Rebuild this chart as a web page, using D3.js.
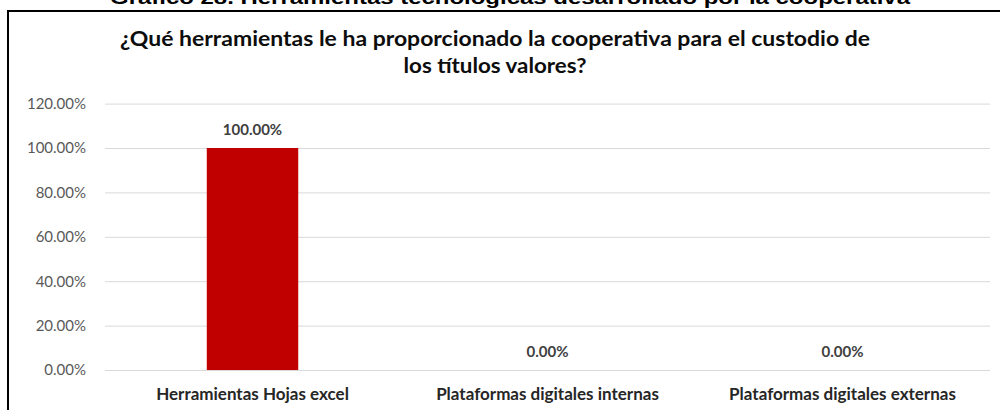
<!DOCTYPE html>
<html>
<head>
<meta charset="utf-8">
<script src="https://cdn.jsdelivr.net/npm/d3@7/dist/d3.min.js"></script>
<style>
  html, body { margin: 0; padding: 0; background: #fff; }
  svg { display: block; }
</style>
</head>
<body>
<svg id="chart" width="1000" height="410"></svg>
<script>
const categories = ["Herramientas Hojas excel", "Plataformas digitales internas", "Plataformas digitales externas"];
const values = [1.0, 0.0, 0.0];
const valueLabels = ["100.00%", "0.00%", "0.00%"];
const yTicks = [0, 0.2, 0.4, 0.6, 0.8, 1.0, 1.2];
const yTickLabels = ["0.00%", "20.00%", "40.00%", "60.00%", "80.00%", "100.00%", "120.00%"];
const captionText = "Gráfico 28. Herramientas tecnológicas desarrollado por la cooperativa";
const titleLines = ["¿Qué herramientas le ha proporcionado la cooperativa para el custodio de", "los títulos valores?"];

const svg = d3.select("#chart");
const W = 1000, H = 410;
svg.append("rect").attr("width", W).attr("height", H).attr("fill", "#fff");

// caption (cut at top in the reference)
svg.append("text")
  .attr("x", 510).attr("y", 4)
  .attr("text-anchor", "middle")
  .attr("font-family", "Arial, 'Liberation Sans', sans-serif")
  .attr("font-weight", "bold")
  .attr("font-size", 19)
  .attr("fill", "#000")
  .attr("textLength", 800).attr("lengthAdjust", "spacingAndGlyphs")
  .text(captionText);

// frame
svg.append("line").attr("x1", 8).attr("x2", 1000).attr("y1", 11).attr("y2", 11)
  .attr("stroke", "#000").attr("stroke-width", 2);
svg.append("line").attr("x1", 8).attr("x2", 8).attr("y1", 10).attr("y2", H)
  .attr("stroke", "#000").attr("stroke-width", 2);

// title
const titleFont = "Lato, 'Open Sans', sans-serif";
const tl = [{t: titleLines[0], y: 46, len: 750}, {t: titleLines[1], y: 73, len: 183}];
tl.forEach(d => {
  svg.append("text")
    .attr("x", 495).attr("y", d.y)
    .attr("text-anchor", "middle")
    .attr("font-family", titleFont)
    .attr("font-weight", "bold")
    .attr("font-size", 21)
    .attr("fill", "#0d0d0d")
    .attr("textLength", d.len).attr("lengthAdjust", "spacingAndGlyphs")
    .text(d.t);
});

const x = d3.scaleBand().domain(categories).range([105, 990])
  .paddingInner(0.69).paddingOuter(0.345);
const y = d3.scaleLinear().domain([0, 1.2]).range([370, 103.6]);

// gridlines + y labels
const yAxis = d3.axisLeft(y).tickValues(yTicks)
  .tickSize(-(990 - 105))
  .tickPadding(19)
  .tickFormat((d, i) => yTickLabels[i]);
const gy = svg.append("g").attr("transform", "translate(105,0)").call(yAxis);
gy.select(".domain").remove();
gy.selectAll(".tick line").attr("stroke", "#d9d9d9").attr("stroke-width", 1);
gy.selectAll(".tick text")
  .attr("font-family", "Lato, sans-serif")
  .attr("font-size", 15)
  .attr("fill", "#595959");

// bars
svg.selectAll("rect.bar").data(values).enter().append("rect")
  .attr("class", "bar")
  .attr("x", (d, i) => x(categories[i]))
  .attr("width", x.bandwidth())
  .attr("y", d => y(d))
  .attr("height", d => y(0) - y(d))
  .attr("fill", "#c00000");

// value labels
svg.selectAll("text.vl").data(values).enter().append("text")
  .attr("class", "vl")
  .attr("x", (d, i) => x(categories[i]) + x.bandwidth() / 2)
  .attr("y", d => y(d) - 13)
  .attr("text-anchor", "middle")
  .attr("font-family", "Lato, sans-serif")
  .attr("font-weight", "bold")
  .attr("font-size", 15)
  .attr("fill", "#404040")
  .text((d, i) => valueLabels[i]);

// x axis labels
const xAxis = d3.axisBottom(x).tickSize(0).tickPadding(18);
const gx = svg.append("g").attr("transform", "translate(0,370)").call(xAxis);
gx.select(".domain").remove();
gx.selectAll(".tick text")
  .attr("font-family", "Lato, sans-serif")
  .attr("font-weight", "bold")
  .attr("font-size", 17)
  .attr("fill", "#262626");
</script>
</body>
</html>
